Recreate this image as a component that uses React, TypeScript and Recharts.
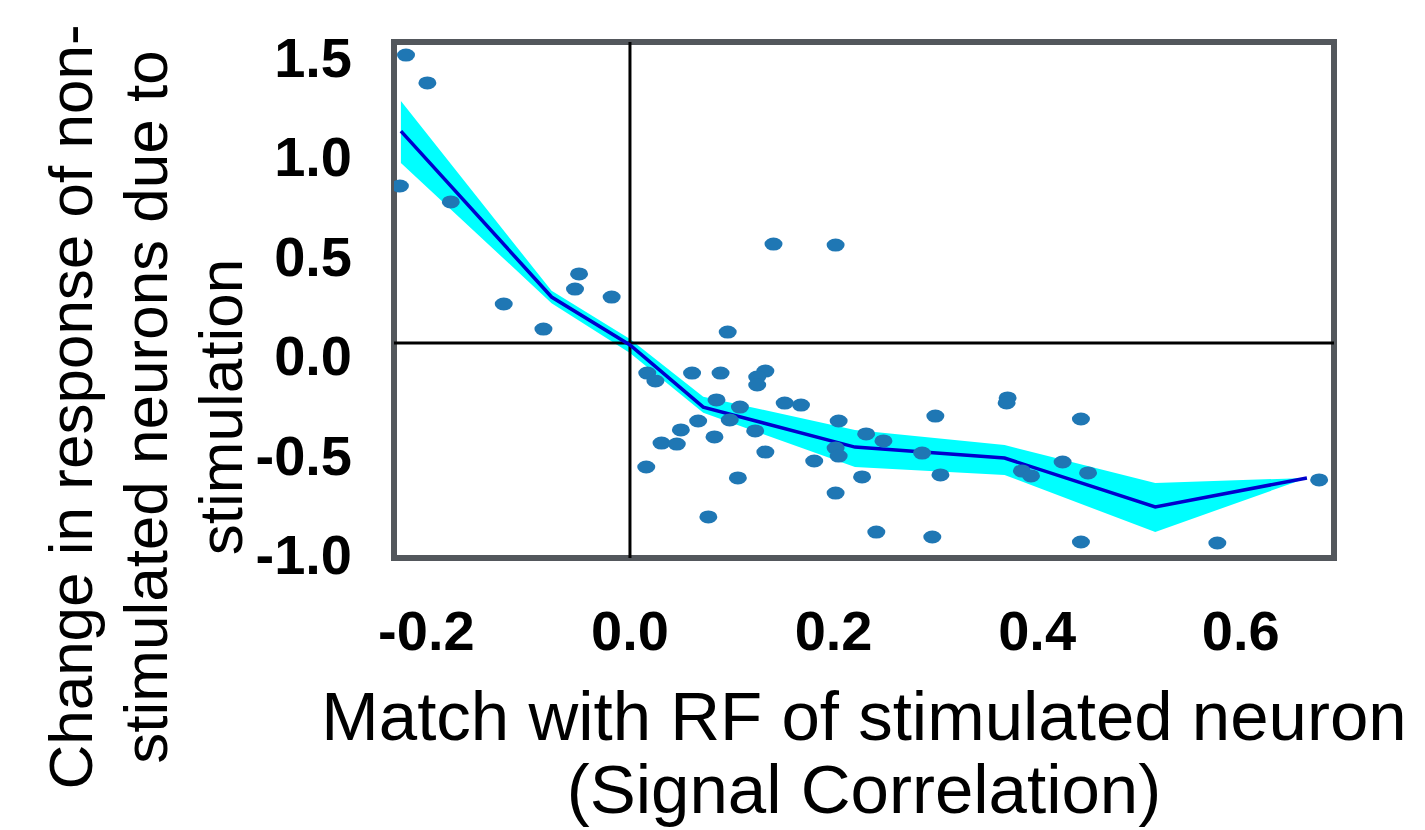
import React from "react";
import {
    Area,
    ComposedChart,
    Label,
    Line,
    ReferenceArea,
    ReferenceLine,
    Scatter,
    XAxis,
    YAxis,
} from "recharts";

// scatter of individual neurons
const pointX = [
    -0.22, -0.199, -0.226, -0.176, -0.05, -0.054, -0.124, -0.018, -0.085, 0.017,
    0.025, 0.141, 0.202, 0.096, 0.061, 0.089, 0.133, 0.125, 0.125, 0.085,
    0.108, 0.152, 0.168, 0.067, 0.098, 0.05, 0.031, 0.046, 0.083, 0.123,
    0.205, 0.232, 0.249, 0.133, 0.202, 0.205, 0.181, 0.287, 0.3, 0.305,
    0.106, 0.228, 0.202, 0.077, 0.242, 0.297, 0.016, 0.371, 0.37, 0.443,
    0.425, 0.45, 0.385, 0.394, 0.443, 0.577, 0.677,
];
const pointY = [
    1.447, 1.307, 0.789, 0.709, 0.347, 0.271, 0.196, 0.231, 0.07, -0.151,
    -0.191, 0.497, 0.492, 0.055, -0.151, -0.151, -0.141, -0.171, -0.211, -0.286,
    -0.322, -0.302, -0.312, -0.392, -0.387, -0.437, -0.503, -0.508, -0.472, -0.442,
    -0.392, -0.457, -0.492, -0.548, -0.528, -0.568, -0.593, -0.553, -0.367, -0.663,
    -0.678, -0.673, -0.754, -0.874, -0.95, -0.975, -0.623, -0.276, -0.301, -0.382,
    -0.598, -0.653, -0.643, -0.668, -1.0, -1.005, -0.688,
];

// binned mean and its error band
const binX = [-0.225, -0.077, 0.0, 0.072, 0.221, 0.368, 0.516, 0.665];
const binMean = [1.065, 0.231, -0.01, -0.322, -0.523, -0.578, -0.824, -0.678];
const binUpper = [1.216, 0.262, 0.02, -0.27, -0.437, -0.513, -0.704, -0.678];
const binLower = [0.905, 0.2, -0.05, -0.35, -0.623, -0.663, -0.95, -0.678];

const xTicks = [-0.2, 0, 0.2, 0.4, 0.6];
const yTicks = [-1.0, -0.5, 0, 0.5, 1.0, 1.5];

const X_MIN = -0.2318;
const X_MAX = 0.6916;
const Y_MIN = -1.0804;
const Y_MAX = 1.5126;

const FONT = "'Liberation Sans', Arial, Helvetica, sans-serif";

const points = pointX.map((x, i) => ({ x, y: pointY[i] }));
const bins = binX.map((x, i) => ({
    x,
    mean: binMean[i],
    band: [binLower[i], binUpper[i]],
}));

const fmt = (v: number) => (Math.abs(v) < 1e-9 ? "0.0" : v.toFixed(1));

const XTick = (props: any) => {
    const { x, y, payload } = props;
    return (
        <text x={x} y={y + 92} textAnchor="middle" fontFamily={FONT} fontWeight="bold" fontSize={56} fill="#000">
            {fmt(payload.value)}
        </text>
    );
};

const YTick = (props: any) => {
    const { x, y, payload } = props;
    return (
        <text x={x} y={y + 32} textAnchor="end" fontFamily={FONT} fontWeight="bold" fontSize={56} fill="#000">
            {fmt(payload.value)}
        </text>
    );
};

const XTitle = () => (
    <text textAnchor="middle" fontFamily={FONT} fontSize={69} fill="#000">
        <tspan x={864} y={740}>Match with RF of stimulated neuron</tspan>
        <tspan x={864} y={813}>(Signal Correlation)</tspan>
    </text>
);

const YTitle = () => (
    <text
        textAnchor="middle"
        fontFamily={FONT}
        fontSize={62}
        fill="#000"
        transform="rotate(-90, 92, 407)"
    >
        <tspan x={92} y={407}>Change in response of non-</tspan>
        <tspan x={92} y={482}>stimulated neurons due to</tspan>
        <tspan x={92} y={557}>stimulation</tspan>
    </text>
);

const Dot = (props: any) => (
    <ellipse cx={props.cx} cy={props.cy} rx={9} ry={6.5} fill="#1f77b4" />
);

export default function App() {
    return (
        <>
            <style>{`body{margin:0;background:#fff}`}</style>
            <ComposedChart
                width={1425}
                height={830}
                margin={{ top: 42, right: 91, bottom: 212, left: 294 }}
            >
                <XAxis
                    type="number"
                    dataKey="x"
                    domain={[X_MIN, X_MAX]}
                    allowDataOverflow
                    ticks={xTicks}
                    tick={<XTick />}
                    tickLine={false}
                    tickSize={0}
                    tickMargin={0}
                    axisLine={false}
                    height={60}
                    interval={0}
                >
                    <Label content={<XTitle />} />
                </XAxis>
                <YAxis
                    type="number"
                    domain={[Y_MIN, Y_MAX]}
                    allowDataOverflow
                    ticks={yTicks}
                    tick={<YTick />}
                    tickLine={false}
                    tickSize={0}
                    tickMargin={42}
                    axisLine={false}
                    width={100}
                    interval={0}
                >
                    <Label content={<YTitle />} />
                </YAxis>
                <Area
                    data={bins}
                    dataKey="band"
                    type="linear"
                    fill="#00ffff"
                    fillOpacity={1}
                    stroke="none"
                    isAnimationActive={false}
                />
                <ReferenceLine x={0} stroke="#000" strokeWidth={3} />
                <ReferenceLine y={0} stroke="#000" strokeWidth={3} />
                <Line
                    data={bins}
                    dataKey="mean"
                    type="linear"
                    stroke="#0000cd"
                    strokeWidth={3.5}
                    dot={false}
                    isAnimationActive={false}
                />
                <Scatter
                    data={points}
                    dataKey="y"
                    shape={<Dot />}
                    isAnimationActive={false}
                />
                <ReferenceArea
                    x1={X_MIN}
                    x2={X_MAX}
                    y1={Y_MIN}
                    y2={Y_MAX}
                    fill="none"
                    stroke="#53575c"
                    strokeWidth={6}
                    ifOverflow="visible"
                />
            </ComposedChart>
        </>
    );
}
